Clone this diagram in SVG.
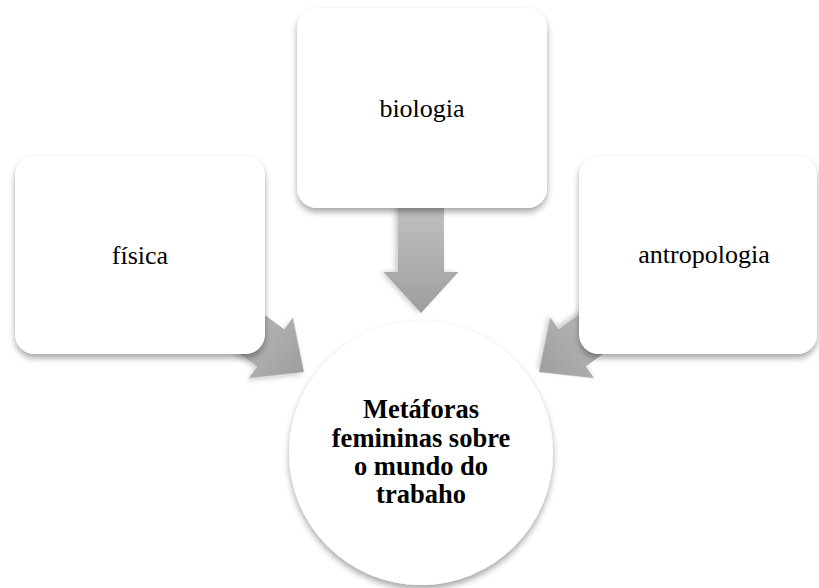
<svg xmlns="http://www.w3.org/2000/svg" width="819" height="588" viewBox="0 0 819 588">
  <style>
    .node { fill: #ffffff; filter: url(#shadow); }
    .label { font-family: "Liberation Serif", "Times New Roman", serif; font-size: 26px; fill: #000000; text-anchor: middle; }
    .center { font-family: "Liberation Serif", "Times New Roman", serif; font-size: 26.5px; font-weight: bold; fill: #000000; text-anchor: middle; }
    .arrow { fill: url(#arrowGrad); filter: url(#ashadow); }
  </style>
  <defs>
    <linearGradient id="arrowGrad" x1="0" y1="0" x2="1" y2="0">
      <stop offset="0" stop-color="#c2c2c2"/>
      <stop offset="1" stop-color="#9e9e9e"/>
    </linearGradient>
    <filter id="shadow" x="-20%" y="-20%" width="140%" height="140%">
      <feDropShadow dx="0" dy="4" stdDeviation="3" flood-color="#000000" flood-opacity="0.35"/>
    </filter>
    <filter id="ashadow" x="-20%" y="-20%" width="140%" height="140%">
      <feDropShadow dx="0" dy="3" stdDeviation="2.5" flood-color="#000000" flood-opacity="0.2"/>
    </filter>
    <polygon id="blockArrow" points="0,0 -41,-37.5 -41,-23 -110,-23 -110,23 -41,23 -41,37.5"/>
  </defs>
  <rect width="819" height="588" fill="#ffffff"/>

  <g id="connectors">
    <use href="#blockArrow" class="arrow" transform="translate(421,313) rotate(90)"/>
    <use href="#blockArrow" class="arrow" transform="translate(304,372) rotate(36)"/>
    <use href="#blockArrow" class="arrow" transform="translate(539,372) rotate(144)"/>
  </g>

  <g id="node-fisica">
    <rect class="node" x="15" y="156" width="250" height="198" rx="20" ry="20"/>
    <text class="label" x="140" y="264">física</text>
  </g>

  <g id="node-biologia">
    <rect class="node" x="297" y="8" width="250" height="200" rx="20" ry="20"/>
    <text class="label" x="422" y="117">biologia</text>
  </g>

  <g id="node-antropologia">
    <rect class="node" x="579" y="156" width="238" height="198" rx="20" ry="20"/>
    <text class="label" x="704" y="263">antropologia</text>
  </g>

  <g id="node-center">
    <circle class="node" cx="421" cy="453" r="132"/>
    <text class="center" x="421" y="418">Metáforas</text>
    <text class="center" x="421" y="447">femininas sobre</text>
    <text class="center" x="421" y="475">o mundo do</text>
    <text class="center" x="421" y="503">trabaho</text>
  </g>
</svg>
